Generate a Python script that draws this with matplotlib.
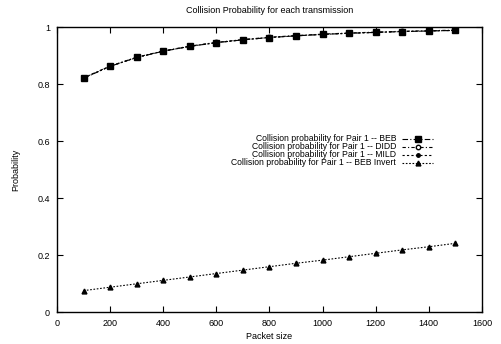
import matplotlib
matplotlib.use("Agg")
import matplotlib.pyplot as plt
from matplotlib.lines import Line2D

plt.rcParams['font.family'] = ['Liberation Sans', 'DejaVu Sans']

packet_size = [100, 200, 300, 400, 500, 600, 700, 800, 900, 1000, 1100, 1200, 1300, 1400, 1500]
beb = [0.82, 0.862, 0.893, 0.915, 0.932, 0.945, 0.955, 0.963, 0.969, 0.974, 0.978, 0.981, 0.984, 0.986, 0.988]
didd = [0.822, 0.863, 0.894, 0.916, 0.933, 0.946, 0.956, 0.964, 0.970, 0.975, 0.979, 0.982, 0.985, 0.987, 0.989]
mild = [0.821, 0.862, 0.893, 0.915, 0.932, 0.945, 0.955, 0.963, 0.969, 0.974, 0.978, 0.981, 0.984, 0.986, 0.988]
beb_invert = [0.075, 0.087, 0.099, 0.111, 0.123, 0.135, 0.147, 0.159, 0.171, 0.182, 0.194, 0.206, 0.218, 0.229, 0.241]

labels = ["Collision probability for Pair 1 -- BEB",
          "Collision probability for Pair 1 -- DIDD",
          "Collision probability for Pair 1 -- MILD",
          "Collision probability for Pair 1 -- BEB Invert"]

fig = plt.figure(figsize=(5.02, 3.44), dpi=100)
ax = fig.add_axes([0.1135, 0.093, 0.8465, 0.8285])

styles = [
    dict(ls=(0, (5, 2, 1, 2)), marker='s', ms=4.2, mfc='black'),
    dict(ls=(0, (3, 2, 1, 2)), marker='o', ms=3.2, mfc='white'),
    dict(ls=(0, (2, 2)), marker='o', ms=2.5, mfc='black'),
    dict(ls=(0, (1.5, 1.5)), marker='^', ms=3.5, mfc='black'),
]
series = [didd, mild, beb, beb_invert]
order = [1, 2, 0, 3]
for s, i in zip(series, order):
    ax.plot(packet_size, s, color='black', lw=0.8, mec='black', **styles[i])

ax.set_xlim(0, 1600)
ax.set_ylim(0, 1)
ax.set_xticks(range(0, 1601, 200))
ax.set_yticks([0, 0.2, 0.4, 0.6, 0.8, 1])
ax.set_yticklabels(['0', '0.2', '0.4', '0.6', '0.8', '1'])
ax.tick_params(direction='in', length=4, width=0.8, labelsize=6.5, top=True, right=True, pad=5)
for sp in ax.spines.values():
    sp.set_linewidth(1)
ax.set_xlabel("Packet size", fontsize=6.5, labelpad=3)
ax.set_ylabel("Probability", fontsize=6.5, labelpad=12)
ax.set_title("Collision Probability for each transmission", fontsize=6.5, pad=10)

# gnuplot-style key: text right-aligned, sample on the right
rows = [0.608, 0.580, 0.552, 0.524]
for lab, y, st in zip(labels, rows, styles):
    ax.text(0.798, y, lab, transform=ax.transAxes, ha='right', va='center', fontsize=6.2)
    ax.add_line(Line2D([0.812, 0.885], [y, y], transform=ax.transAxes, color='black', lw=0.8,
                       ls=st['ls']))
    ax.add_line(Line2D([0.8485], [y], transform=ax.transAxes, color='black', marker=st['marker'],
                       ms=st['ms'], mfc=st['mfc'], mec='black', ls='none'))

fig.savefig("out.png", dpi=100)
